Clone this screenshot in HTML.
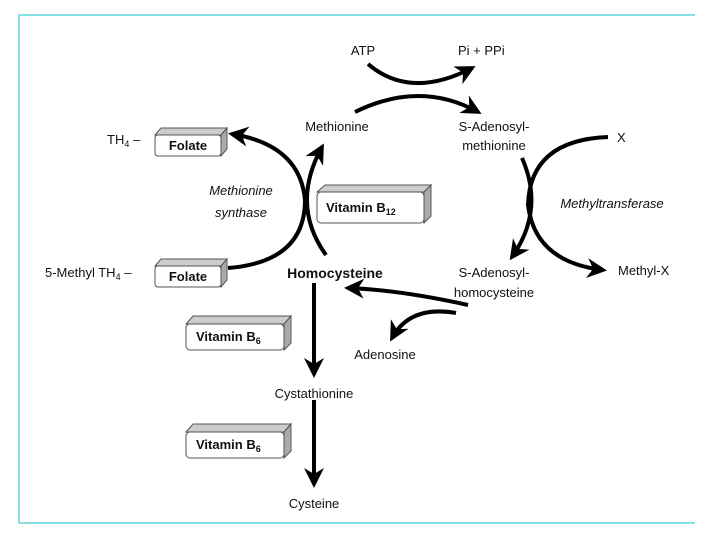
<!DOCTYPE html>
<html><head><meta charset="utf-8"><style>
body{margin:0;background:#fff}
svg{display:block;font-family:"Liberation Sans",sans-serif}
</style></head><body>
<svg width="720" height="540" viewBox="0 0 720 540">
<defs>
<marker id="a" viewBox="0 0 10 10" refX="8" refY="5" markerWidth="5" markerHeight="5" orient="auto" markerUnits="strokeWidth">
<path d="M0,0 L10,5 L0,10 L3,5 Z" fill="#000"/></marker>
<symbol id="box" viewBox="0 0 100 40"></symbol>
</defs>
<path d="M19,523 V15 H695 M19,523 H695" fill="none" stroke="#5fd8d8" stroke-width="1.5"/>
<g fill="none" stroke="#000" stroke-width="4" stroke-linecap="butt">
<path d="M368,64 Q410,100 472,68" marker-end="url(#a)"/>
<path d="M355,112 Q420,80 478,112" marker-end="url(#a)"/>
<path d="M228,268 Q305,262 305,200 Q300,145 232,134" marker-end="url(#a)"/>
<path d="M326,255 Q290,205 322,147" marker-end="url(#a)"/>
<path d="M522,158 Q545,210 512,257" marker-end="url(#a)"/>
<path d="M608,137 Q530,140 528,205 Q535,262 603,270" marker-end="url(#a)"/>
<path d="M468,305 Q400,290 348,288" marker-end="url(#a)"/>
<path d="M456,313 Q410,305 392,338" marker-end="url(#a)"/>
<path d="M314,283 V374" marker-end="url(#a)"/>
<path d="M314,400 V484" marker-end="url(#a)"/>
</g>
<g stroke="#555" stroke-width="1" fill="#fff">
<!-- folate 1 -->
<path d="M155,135 L161,128 L227,128 L221,135 Z" fill="#ccc"/><path d="M221,135 L227,128 L227,149 L221,156 Z" fill="#aaa"/><rect x="155" y="135" width="66" height="21" rx="3"/>
<!-- folate 2 -->
<path d="M155,266 L161,259 L227,259 L221,266 Z" fill="#ccc"/><path d="M221,266 L227,259 L227,280 L221,287 Z" fill="#aaa"/><rect x="155" y="266" width="66" height="21" rx="3"/>
<!-- B12 -->
<path d="M317,192 L325,185 L431,185 L424,192 Z" fill="#ccc"/><path d="M424,192 L431,185 L431,216 L424,223 Z" fill="#aaa"/><rect x="317" y="192" width="107" height="31" rx="4"/>
<!-- B6 1 -->
<path d="M186,324 L193,316 L291,316 L284,324 Z" fill="#ccc"/><path d="M284,324 L291,316 L291,343 L284,350 Z" fill="#aaa"/><rect x="186" y="324" width="98" height="26" rx="4"/>
<!-- B6 2 -->
<path d="M186,432 L193,424 L291,424 L284,432 Z" fill="#ccc"/><path d="M284,432 L291,424 L291,451 L284,458 Z" fill="#aaa"/><rect x="186" y="432" width="98" height="26" rx="4"/>
</g>
<g font-size="13" fill="#111">
<text x="363" y="55" text-anchor="middle">ATP</text>
<text x="458" y="55">Pi + PPi</text>
<text x="337" y="131" text-anchor="middle">Methionine</text>
<text x="494" y="131" text-anchor="middle">S-Adenosyl-</text>
<text x="494" y="150" text-anchor="middle">methionine</text>
<text x="617" y="142">X</text>
<text x="612" y="208" text-anchor="middle" font-style="italic">Methyltransferase</text>
<text x="494" y="277" text-anchor="middle">S-Adenosyl-</text>
<text x="494" y="297" text-anchor="middle">homocysteine</text>
<text x="618" y="275">Methyl-X</text>
<text x="335" y="278" text-anchor="middle" font-weight="bold" font-size="14">Homocysteine</text>
<text x="385" y="359" text-anchor="middle">Adenosine</text>
<text x="314" y="398" text-anchor="middle">Cystathionine</text>
<text x="314" y="508" text-anchor="middle">Cysteine</text>
<text x="107" y="144">TH<tspan font-size="9" dy="3">4</tspan><tspan dy="-3"> –</tspan></text>
<text x="45" y="277">5-Methyl TH<tspan font-size="9" dy="3">4</tspan><tspan dy="-3"> –</tspan></text>
<text x="241" y="195" text-anchor="middle" font-style="italic">Methionine</text>
<text x="241" y="217" text-anchor="middle" font-style="italic">synthase</text>
<g font-weight="bold">
<text x="188" y="150" text-anchor="middle">Folate</text>
<text x="188" y="281" text-anchor="middle">Folate</text>
<text x="326" y="212">Vitamin B<tspan font-size="9" dy="3">12</tspan></text>
<text x="196" y="341">Vitamin B<tspan font-size="9" dy="3">6</tspan></text>
<text x="196" y="449">Vitamin B<tspan font-size="9" dy="3">6</tspan></text>
</g>
</g>
</svg>
</body></html>
